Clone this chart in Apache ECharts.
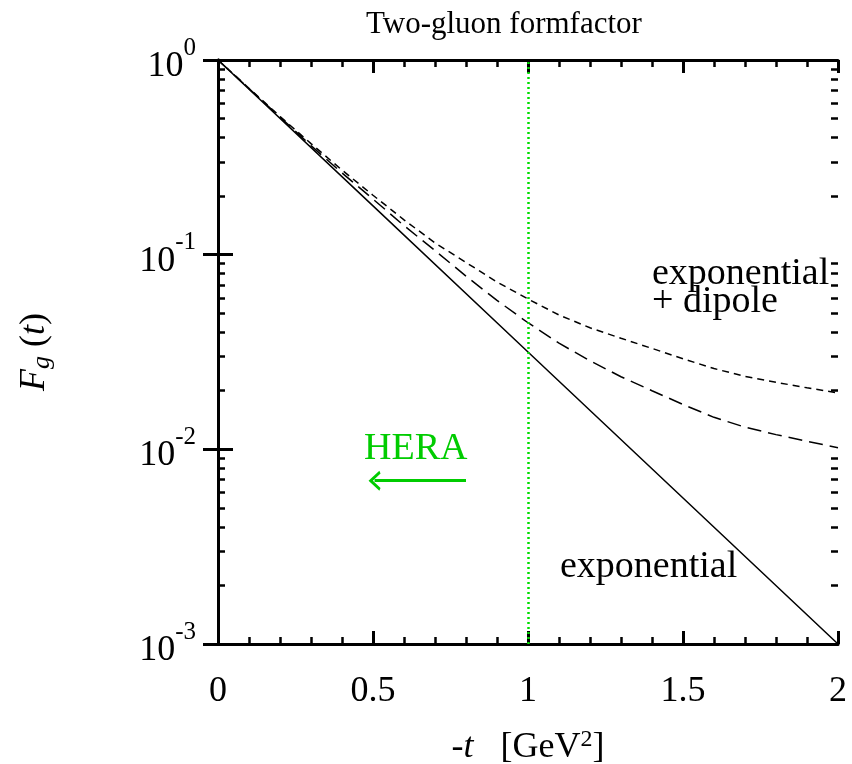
<!DOCTYPE html>
<html>
<head>
<meta charset="utf-8">
<script src="https://cdn.jsdelivr.net/npm/echarts@6/dist/echarts.min.js"></script>
<style>
  html, body { margin: 0; padding: 0; background: #fff; }
  #chart { width: 852px; height: 764px; }
</style>
</head>
<body>
<div id="chart"></div>
<script>
// -t values [GeV^2]
const tGrid = [0, 0.1, 0.2, 0.3, 0.4, 0.5, 0.6, 0.7, 0.8, 0.9, 1.0,
               1.1, 1.2, 1.3, 1.4, 1.5, 1.6, 1.7, 1.8, 1.9, 2.0];
// exponential + dipole (short dashes, upper curve)
const dipoleA = [1, 0.716, 0.513, 0.372, 0.272, 0.202, 0.151, 0.115, 0.0912, 0.0724, 0.0592,
                 0.0490, 0.0421, 0.0372, 0.0330, 0.0292, 0.0260, 0.0237, 0.0221, 0.0207, 0.0195];
// exponential + dipole (long dashes, middle curve)
const dipoleB = [1, 0.713, 0.509, 0.363, 0.263, 0.193, 0.141, 0.105, 0.0776, 0.0582, 0.0447,
                 0.0351, 0.0285, 0.0236, 0.0200, 0.0170, 0.0146, 0.0130, 0.0119, 0.0110, 0.0102];
// pure exponential (solid)
const tExp = [0, 0.5, 1.0, 1.5, 2.0];
const expo = [1, 0.178, 0.0316, 0.00562, 0.001];

const heraCut = 1.0;          // vertical dotted line
const heraArrow = [0.8, 0.505, 0.0069];  // from, to, height

const majorY = [0.001, 0.01, 0.1, 1];
const minorY = [0.002, 0.003, 0.004, 0.005, 0.006, 0.007, 0.008, 0.009,
                0.02, 0.03, 0.04, 0.05, 0.06, 0.07, 0.08, 0.09,
                0.2, 0.3, 0.4, 0.5, 0.6, 0.7, 0.8, 0.9];

const FONT = 'Liberation Serif';
const GREEN = '#00cc00';
// open arrow head, pointing up before markLine rotates it
const CHEVRON = 'path://M5,0 L10,9 L8.6,10 L5,3.6 L1.4,10 L0,9 Z';

function pairs(xs, ys) {
    return xs.map((x, i) => [x, ys[i]]);
}

const chart = echarts.init(document.getElementById('chart'));

function xAx(pos, showLabel) {
    return {
        type: 'value', position: pos, min: 0, max: 2, interval: 0.5,
        axisLine: { show: true, lineStyle: { color: '#000', width: 3 } },
        axisTick: { inside: true, length: 13, lineStyle: { color: '#000', width: 3 } },
        minorTick: { show: true, splitNumber: 5, length: 7, lineStyle: { color: '#000', width: 2.5 } },
        splitLine: { show: false },
        axisLabel: {
            show: showLabel, margin: 30, color: '#000', fontFamily: FONT, fontSize: 36,
            formatter: v => String(v)
        },
        name: showLabel ? '{i|-t}{n|   [GeV}{s|2}{n|]}' : '',
        nameLocation: 'middle', nameGap: 84,
        nameTextStyle: {
            rich: {
                i: { fontFamily: FONT, fontStyle: 'italic', fontSize: 36, color: '#000' },
                n: { fontFamily: FONT, fontSize: 36, color: '#000' },
                s: { fontFamily: FONT, fontSize: 24, color: '#000', verticalAlign: 'top', padding: [0, 0, 16, 0] }
            }
        }
    };
}

function yAx(pos, major, showLabel) {
    return {
        type: 'log', position: pos, min: 0.001, max: 1, logBase: 10,
        axisLine: { show: major, lineStyle: { color: '#000', width: 3 } },
        axisTick: {
            inside: true, length: major ? 15 : 7,
            customValues: major ? majorY : minorY,
            lineStyle: { color: '#000', width: major ? 3 : 2.5 }
        },
        splitLine: { show: false },
        axisLabel: {
            show: showLabel, margin: 22, customValues: majorY,
            formatter: v => '{b|10}{s|' + Math.round(Math.log10(v)) + '}',
            rich: {
                b: { fontFamily: FONT, fontSize: 36, color: '#000', verticalAlign: 'bottom' },
                s: { fontFamily: FONT, fontSize: 25, color: '#000', verticalAlign: 'top', padding: [0, 0, 24, 0] }
            }
        },
        name: showLabel ? '{i|F}{g|g}{n| (}{i|t}{n|)}' : '',
        nameLocation: 'middle', nameGap: 163, nameRotate: 90,
        nameTextStyle: {
            rich: {
                i: { fontFamily: FONT, fontStyle: 'italic', fontSize: 36, color: '#000' },
                g: { fontFamily: FONT, fontStyle: 'italic', fontSize: 26, color: '#000', verticalAlign: 'bottom', padding: [14, 0, 0, 0] },
                n: { fontFamily: FONT, fontSize: 36, color: '#000' }
            }
        }
    };
}

function label(text, x, y, color) {
    return {
        type: 'text', x: x, y: y,
        style: { text: text, fill: color || '#000', font: '38px "' + FONT + '"', verticalAlign: 'middle' }
    };
}

const option = {
    animation: false,
    backgroundColor: '#fff',
    title: {
        text: 'Two-gluon formfactor', left: 361, top: 4,
        textStyle: { fontFamily: FONT, fontSize: 31, fontWeight: 'normal', color: '#000' }
    },
    grid: { left: 218, right: 14, top: 60, bottom: 120, outerBoundsMode: 'none', containLabel: false },
    xAxis: [xAx('bottom', true), xAx('top', false)],
    yAxis: [yAx('left', true, true), yAx('right', true, false),
            yAx('left', false, false), yAx('right', false, false)],
    series: [
        {
            name: 'exponential', type: 'line', showSymbol: false, symbol: 'none',
            data: pairs(tExp, expo),
            lineStyle: { color: '#000', width: 1.5 },
            markLine: {
                silent: true, symbol: ['none', 'none'], label: { show: false },
                data: [
                    { xAxis: heraCut, lineStyle: { color: '#00dd00', width: 2.5, type: [2, 3] } },
                    [
                        { coord: [heraArrow[0], heraArrow[2]], symbol: 'none' },
                        { coord: [heraArrow[1], heraArrow[2]], symbol: CHEVRON, symbolSize: [20, 12],
                          lineStyle: { color: GREEN, width: 3, type: 'solid' },
                          itemStyle: { color: GREEN } }
                    ]
                ]
            }
        },
        {
            name: 'exp + dipole A', type: 'line', showSymbol: false, symbol: 'none',
            data: pairs(tGrid, dipoleA),
            lineStyle: { color: '#000', width: 1.5, type: [7, 5] }
        },
        {
            name: 'exp + dipole B', type: 'line', showSymbol: false, symbol: 'none',
            data: pairs(tGrid, dipoleB),
            lineStyle: { color: '#000', width: 1.5, type: [14, 7] }
        }
    ],
    graphic: [
        label('exponential', 652, 274),
        label('+ dipole', 652, 302),
        label('exponential', 560, 567),
        label('HERA', 364, 449, GREEN)
    ]
};

chart.setOption(option);
</script>
</body>
</html>
